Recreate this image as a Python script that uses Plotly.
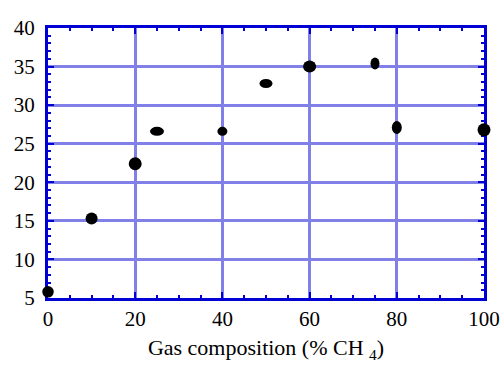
import plotly.graph_objects as go

# Data
gas_ch4 = [0, 10, 20, 25, 40, 50, 60, 75, 80, 100]
values = [5.8, 15.3, 22.4, 26.6, 26.6, 32.8, 35.0, 35.4, 27.1, 26.8]

x_ticks = [0, 20, 40, 60, 80, 100]
y_ticks = [5, 10, 15, 20, 25, 30, 35, 40]

# marker ellipse sizes (px): width, height
ell_w = [10, 12, 13, 14, 10, 13, 13, 9, 10, 13]
ell_h = [13, 12, 13, 9, 9, 9, 12, 12, 13, 13]

AXIS_BLUE = "#0000d4"
GRID_BLUE = "#8080e8"
FONT = "Liberation Serif, Times New Roman, serif"

fig = go.Figure()

# edge points drawn as markers (not clipped), interior as ellipse shapes
edge = [i for i, xv in enumerate(gas_ch4) if xv in (x_ticks[0], x_ticks[-1])]
sizes = [((ell_w[i] + ell_h[i]) / 2 if i in edge else 0) for i in range(len(gas_ch4))]

fig.add_trace(go.Scatter(
    x=gas_ch4, y=values, mode="markers",
    marker=dict(color="black", size=sizes, opacity=1, line=dict(width=0)),
    opacity=1, cliponaxis=False, showlegend=False,
))

for i, (xv, yv) in enumerate(zip(gas_ch4, values)):
    if i in edge:
        continue
    fig.add_shape(
        type="circle", xref="x", yref="y",
        xsizemode="pixel", ysizemode="pixel",
        xanchor=xv, yanchor=yv,
        x0=-ell_w[i] / 2, x1=ell_w[i] / 2,
        y0=-ell_h[i] / 2, y1=ell_h[i] / 2,
        fillcolor="black", opacity=1, line=dict(width=0), layer="above",
    )

fig.update_xaxes(
    range=[x_ticks[0], x_ticks[-1]], tickvals=x_ticks,
    showline=True, linecolor=AXIS_BLUE, linewidth=3, mirror="allticks",
    ticks="inside", ticklen=6, tickwidth=2, tickcolor=AXIS_BLUE,
    showgrid=True, gridcolor=GRID_BLUE, gridwidth=2.5,
    minor=dict(dtick=5, ticks="inside", ticklen=3, tickwidth=2, tickcolor=AXIS_BLUE, showgrid=False),
    zeroline=False, layer="below traces", automargin=False,
    tickfont=dict(family=FONT, size=21, color="black"),
    title=dict(text="Gas composition (% CH <sub>4</sub>)", font=dict(family=FONT, size=22, color="black"), standoff=10),
)
fig.update_yaxes(
    range=[y_ticks[0], y_ticks[-1]], tickvals=y_ticks,
    showline=True, linecolor=AXIS_BLUE, linewidth=3, mirror="allticks",
    ticks="inside", ticklen=6, tickwidth=2, tickcolor=AXIS_BLUE,
    showgrid=True, gridcolor=GRID_BLUE, gridwidth=2.5,
    minor=dict(dtick=1, ticks="inside", ticklen=3, tickwidth=2, tickcolor=AXIS_BLUE, showgrid=False),
    zeroline=False, layer="below traces", automargin=False,
    tickfont=dict(family=FONT, size=21, color="black"),
    ticklabelstandoff=6,
)

fig.update_layout(
    width=502, height=365,
    margin=dict(l=48, r=18, t=28, b=67),
    paper_bgcolor="white", plot_bgcolor="white",
)

fig.write_html("out.html")
